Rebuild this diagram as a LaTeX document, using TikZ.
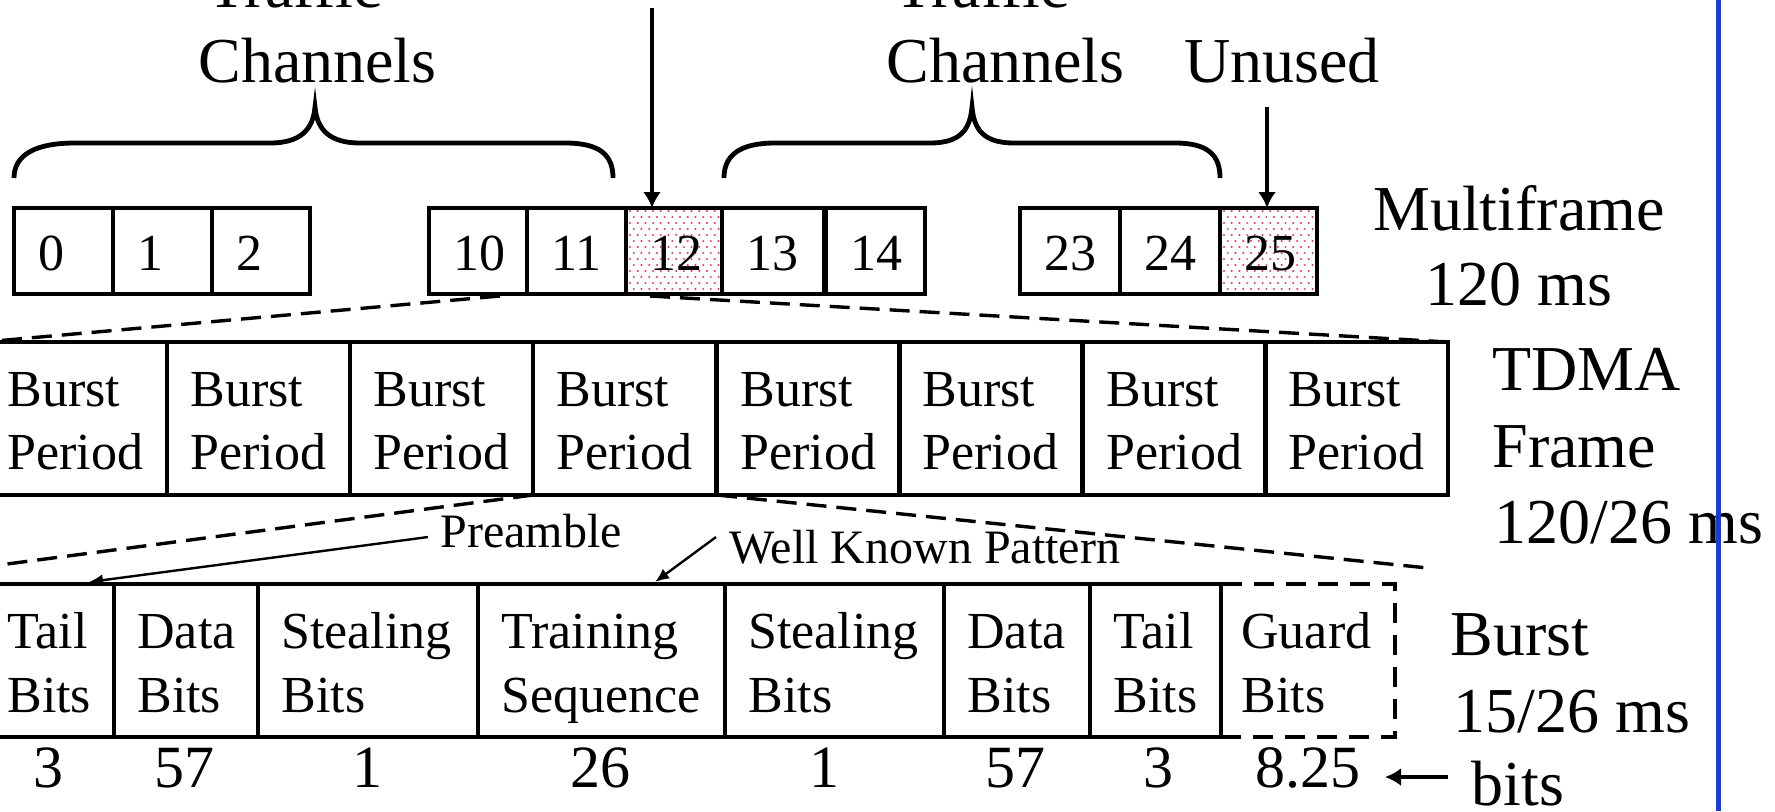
\documentclass[tikz,border=0pt]{standalone}
\usepackage{fontspec}
\setmainfont{Liberation Serif}
\usetikzlibrary{arrows.meta}
\definecolor{blueline}{RGB}{20,60,230}
\definecolor{dotred}{RGB}{240,50,80}
\tikzset{
 cell/.style={draw, line width=2.4pt, inner sep=0pt, outer sep=0pt, anchor=north west},
 lbl/.style={inner sep=0pt, anchor=base west},
 ctr/.style={inner sep=0pt, anchor=base},
 bigf/.style={font=\fontsize{32}{36}\selectfont},
 numf/.style={font=\fontsize{26}{30}\selectfont},
 boxf/.style={font=\fontsize{26}{30}\selectfont},
 bitf/.style={font=\fontsize{30}{34}\selectfont},
 smallf/.style={font=\fontsize{24}{28}\selectfont},
 zoomline/.style={line width=1.7pt, dash pattern=on 10pt off 5pt},
 ptr/.style={line width=2pt, -{Latex[length=8pt,width=9pt]}},
 thinptr/.style={line width=1.2pt, -{Latex[length=7pt,width=6pt]}},
 brace/.style={line width=2.4pt},
 guard/.style={dash pattern=on 10pt off 6pt},
}
\begin{document}
\begin{tikzpicture}[x=0.5pt,y=-0.5pt]
\useasboundingbox (0,0) rectangle (1775,811);
\clip (0,0) rectangle (1775,811);
\fill[white] (0,0) rectangle (1775,811);

% dotted fill of slots 12 and 25
\begin{scope}
\clip (626,208) rectangle (722,294) (1220,208) rectangle (1317,294);
\foreach \bx in {626,1220} {
  \foreach \r in {0,...,14} {
    \foreach \c in {0,...,13} {
      \pgfmathsetmacro\xx{\bx+4+\c*7.7+mod(\r,2)*3.85}
      \pgfmathsetmacro\yy{211+\r*6}
      \fill[dotred] (\xx,\yy) circle[radius=0.55pt];
    }
  }
}
\end{scope}

% multiframe slots
\foreach \n/\l/\w in {0/14/99,1/113/99,2/212/98,10/429/98,11/527/99,12/626/96,13/722/102,14/826/99,23/1020/100,24/1120/100,25/1220/97}{
  \node[cell, minimum width={\w*0.5pt}, minimum height=43pt] (m\n) at (\l,208) {};
  \node[lbl,numf] (mt\n) at (\l+24,270) {\n};
}

% braces
\draw[brace] (14,178) .. controls (14,155) and (35,143) .. (75,143) -- (270,143)
  .. controls (300,143) and (313,130) .. (315,107)
  .. controls (317,130) and (330,143) .. (360,143) -- (565,143)
  .. controls (600,143) and (613,155) .. (613,178);
\draw[brace] (724,178) .. controls (724,155) and (740,143) .. (775,143) -- (930,143)
  .. controls (960,143) and (970,130) .. (972,107)
  .. controls (974,130) and (984,143) .. (1014,143) -- (1175,143)
  .. controls (1208,143) and (1220,155) .. (1220,178);

% top labels
\node[lbl,bigf] (tr1) at (207,7) {Traffic};
\node[lbl,bigf] (ch1) at (198,82) {Channels};
\node[lbl,bigf] (tr2) at (894,7) {Traffic};
\node[lbl,bigf] (ch2) at (886,82) {Channels};
\node[lbl,bigf] (un) at (1184,82) {Unused};

% top arrows
\coordinate (ctop) at (652,8);
\draw[ptr] (ctop) -- (ctop |- m12.north);
\coordinate (utop) at (1267,107);
\draw[ptr] (utop) -- (utop |- m25.north);

% multiframe label
\node[ctr,bigf] (mf) at (1519,230) {Multiframe};
\node[ctr,bigf] (mfs) at (1519,305) {120 ms};

% TDMA frame
\foreach \i/\l in {1/-16,2/167,3/350,4/533,5/717,6/899,7/1083,8/1265} {
  \node[cell, minimum width=91.5pt, minimum height=76.5pt] (f\i) at (\l,342) {};
  \node[lbl,boxf] (fa\i) at (\l+23,406) {Burst};
  \node[lbl,boxf] (fb\i) at (\l+23,469) {Period};
}
\node[lbl,bigf] (td1) at (1492,390) {TDMA};
\node[lbl,bigf] (td2) at (1492,467) {Frame};
\node[lbl,bigf] (td3) at (1494,543) {120/26 ms};

% zoom lines multiframe -> TDMA
\coordinate (z1a) at (500,296);
\coordinate (z1b) at (650,296);
\draw[zoomline] (z1a) -- (f1.north west);
\draw[zoomline] (z1b) -- (f8.north east);

% zoom lines TDMA -> burst
\coordinate (z2a) at (-16,567);
\coordinate (z2b) at (1428,568);
\draw[zoomline] (f4.south west) -- (z2a);
\draw[zoomline] (f5.south west) -- (z2b);

% burst
\node[cell, guard, minimum width=87pt, minimum height=76.5pt] (g) at (1221,584) {};
\node[lbl,boxf] (ga) at (1241,648) {Guard};
\node[lbl,boxf] (gb) at (1241,712) {Bits};
\foreach \i/\l/\w/\a/\b in {1/-16/130/Tail/Bits, 2/114/144/Data/Bits, 3/258/220/Stealing/Bits, 4/478/247/Training/Sequence, 5/725/219/Stealing/Bits, 6/944/146/Data/Bits, 7/1090/131/Tail/Bits} {
  \node[cell, minimum width={\w*0.5pt}, minimum height=76.5pt] (r\i) at (\l,584) {};
  \node[lbl,boxf] (ra\i) at (\l+23,648) {\a};
  \node[lbl,boxf] (rb\i) at (\l+23,712) {\b};
}

% preamble / pattern pointers
\node[lbl,smallf] (pre) at (440,547) {Preamble};
\coordinate (pa) at (428,537);
\coordinate (pb) at (89,582);
\draw[thinptr] (pa) -- (pb);
\node[lbl,smallf] (wkp) at (729,563) {Well Known Pattern};
\coordinate (wa) at (716,537);
\coordinate (wb) at (655,582);
\draw[thinptr] (wa) -- (wb);

\node[lbl,bigf] (bu1) at (1450,655) {Burst};
\node[lbl,bigf] (bu2) at (1453,732) {15/26 ms};

% bit counts
\foreach \i/\x/\t in {1/48/3, 2/184/57, 3/367/1, 4/600/26, 5/824/1, 6/1015/57, 7/1158/3, 8/1308/8.25} {
  \node[ctr,bitf] (n\i) at (\x,787) {\t};
}
\coordinate (ba) at (1448,777);
\coordinate (bb) at (1385,777);
\draw[ptr] (ba) -- (bb);
\node[lbl,bigf] (bits) at (1471,805) {bits};

% blue margin line
\fill[blueline] (1715.5,0) rectangle (1720.5,811);
\end{tikzpicture}
\end{document}
